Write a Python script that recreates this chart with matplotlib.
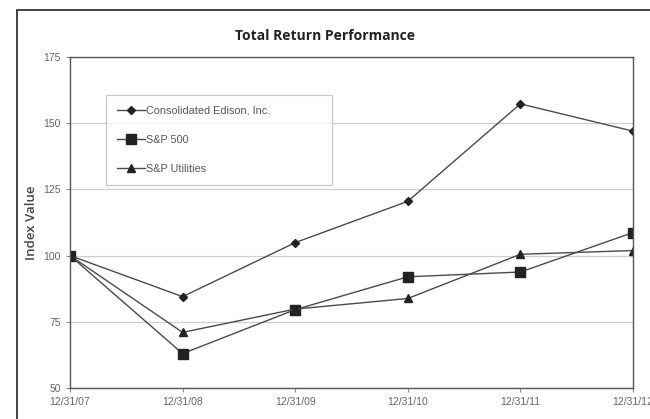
'''Total Return Performance line chart'''

import matplotlib
matplotlib.use("Agg")
import matplotlib.pyplot as plt
from matplotlib.patches import Rectangle

######################################
# DATA
dates = ["12/31/07", "12/31/08", "12/31/09", "12/31/10", "12/31/11", "12/31/12"]
con_ed = [100, 84.5, 104.9, 120.5, 157.3, 147]
sp_500 = [100, 63.0, 79.6, 92.0, 93.8, 108.7]
sp_util = [100, 71.0, 79.8, 83.8, 100.5, 101.9]
y_ticks = [50, 75, 100, 125, 150, 175]
######################################

line_col = "#4a4a4a"

fig = plt.figure(figsize=(6.5, 4.19), dpi=100)
ax = fig.add_axes([70 / 650, 31 / 419, 563 / 650, 331 / 419])

# outer frame, cut by the right and bottom edge like the scan
fig.patches.append(Rectangle((17 / 650, -0.2), 1.2, 1 - 10 / 419 + 0.2,
                             transform=fig.transFigure, fill=False,
                             edgecolor="#222222", linewidth=1.2))

x = list(range(len(dates)))
ax.plot(x, con_ed, color=line_col, lw=1.0, marker="D", ms=4.5, mfc="#222222",
        mec="#222222", label="Consolidated Edison, Inc.")
ax.plot(x, sp_500, color=line_col, lw=1.0, marker="s", ms=6.5, mfc="#222222",
        mec="#222222", label="S&P 500")
ax.plot(x, sp_util, color=line_col, lw=1.0, marker="^", ms=6, mfc="#222222",
        mec="#222222", label="S&P Utilities")

ax.set_xlim(0, 5)
ax.set_ylim(50, 175)
ax.set_yticks(y_ticks)
ax.set_xticks(x)
ax.set_xticklabels(dates)
ax.tick_params(axis="both", colors="#8a8a8a", labelsize=7.5, length=3, direction="out")
for lab in ax.get_xticklabels() + ax.get_yticklabels():
    lab.set_fontfamily("Liberation Sans")
    lab.set_color("#666666")
ax.grid(axis="y", color="#cfcfcf", lw=0.9)
for side in ["top", "right", "left", "bottom"]:
    ax.spines[side].set_color("#555555")
    ax.spines[side].set_linewidth(1.0)

ax.set_ylabel("Index Value", fontsize=9.5, fontweight="semibold", color="#444444",
              labelpad=4, family="Open Sans")
fig.text(0.5, 1 - 36 / 419, "Total Return Performance", ha="center", va="center",
         fontsize=10, fontweight="bold", color="#222222", family="Open Sans")

# legend box stretched to the size of the scanned one
leg = ax.legend(loc="upper left",
                bbox_to_anchor=(106 / 650, 1 - 183 / 419, 226 / 650, 88 / 419),
                bbox_transform=fig.transFigure, mode="expand", fontsize=7.8,
                frameon=True, fancybox=False, labelspacing=1.75, handlelength=2.6,
                borderpad=1.0, handletextpad=0.1, borderaxespad=0)
leg._legend_box.align = "left"
leg.get_frame().set_edgecolor("#bbbbbb")
leg.get_frame().set_linewidth(0.9)
for t in leg.get_texts():
    t.set_color("#555555")
    t.set_fontfamily("Liberation Sans")

plt.savefig("out.png", dpi=100)
